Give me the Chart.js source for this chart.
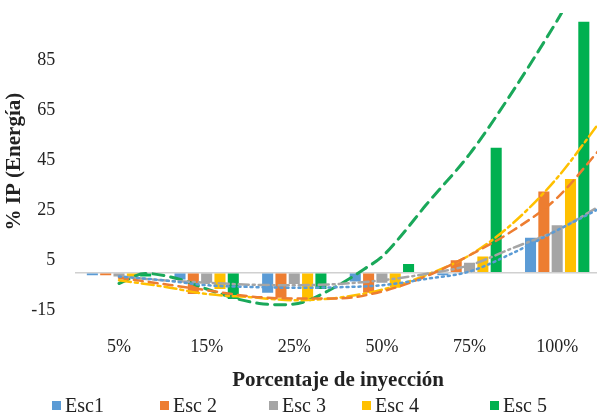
<!DOCTYPE html>
<html>
<head>
<meta charset="utf-8">
<script src="https://cdn.jsdelivr.net/npm/chart.js@4"></script>
<style>
    html, body { margin: 0; padding: 0; background: #fff; overflow: hidden; }
    #wrap { position: relative; width: 605px; height: 415px; }
    #legend { position: absolute; left: 0; top: 394px; width: 605px; height: 22px; }
    #legend .item {
        position: absolute; top: 0; display: flex; align-items: center;
        font-family: 'Liberation Serif', 'Times New Roman', serif; font-size: 20px; color: #222;
        white-space: nowrap; line-height: 22px;
    }
    #legend .box { width: 9px; height: 9px; margin-right: 4px; }
</style>
</head>
<body>
<div id="wrap">
    <canvas id="ipChart"></canvas>
    <div id="legend"></div>
</div>
<script>
// Categorías y valores (% IP por escenario)
const categories = ["5%", "15%", "25%", "50%", "75%", "100%"];
const seriesNames = ["Esc1", "Esc 2", "Esc 3", "Esc 4", "Esc 5"];
const esc1 = [-1, -2.7, -8, -3.5, -1, 14];
const esc2 = [-1, -8.5, -10, -8, 5, 32.5];
const esc3 = [-1.5, -4, -4.5, -4, 4, 19];
const esc4 = [-2, -6.5, -10.5, -6, 6.5, 37.5];
const esc5 = [-1.5, -10.5, -6.5, 3.5, 50, 100.5];

// Líneas de tendencia (x = posición en el eje de categorías)
const trendX = [0, 0.5, 1, 1.5, 2, 2.5, 3, 3.5, 4, 4.5, 5, 5.5];
const trend1 = [-1.5, -3, -5, -5.7, -6, -5.8, -5, -2.5, 0.5, 8, 17, 26];
const trend2 = [-2, -4.5, -7, -9.5, -10.3, -10.3, -7.5, -1.5, 7, 17, 30, 50];
const trend3 = [-1.5, -3, -4, -4.8, -5, -4.5, -3, -0.5, 3, 10, 17, 27];
const trend4 = [-3, -5.5, -8.5, -9.8, -11, -10, -6.8, -1, 7, 20, 38, 61];
const trend5X = [0, 0.3, 0.7, 1, 1.3, 1.6, 1.85, 2.1, 2.4, 2.6, 2.8, 3, 3.2, 3.5, 4, 4.5, 5, 5.05];
const trend5 = [-4.3, -0.3, -2.7, -6.5, -10, -12.3, -12.8, -11.8, -7, -3, 1.5, 6.4, 14, 27, 47.5, 73, 101, 104];

const yTicks = [-15, 0, 5, 25, 45, 65, 85];

const colors = ["#5b9bd5", "#ed7d31", "#a5a5a5", "#ffc000", "#00b050"];
const serif = "'Liberation Serif', 'Times New Roman', serif";

function barSet(label, data, color, i) {
    return {
        type: "bar",
        label: label,
        data: data,
        stack: "s" + i,
        backgroundColor: color,
        borderWidth: 0,
        order: 1,
        barPercentage: 0.83,
        categoryPercentage: 0.76,
    };
}

function trendSet(xs, ys, color, dash, width) {
    return {
        type: "line",
        label: "trend",
        stack: "s0",
        parsing: false,
        data: xs.map((x, i) => ({ x: x, y: ys[i] })),
        borderColor: color,
        borderDash: dash,
        borderWidth: width,
        borderCapStyle: "round",
        pointRadius: 0,
        cubicInterpolationMode: "monotone",
        fill: false,
        order: 0,
    };
}

const barData = [esc1, esc2, esc3, esc4, esc5];

new Chart(document.getElementById("ipChart"), {
    type: "bar",
    data: {
        labels: categories,
        datasets: [
            ...barData.map((d, i) => barSet(seriesNames[i], d, colors[i], i)),
            trendSet(trendX, trend1, colors[0], [2, 4], 2.5),
            trendSet(trendX, trend2, colors[1], [9, 6], 2.5),
            trendSet(trendX, trend3, colors[2], [10, 4, 2, 4], 2.5),
            trendSet(trendX, trend4, colors[3], [12, 4, 3, 4], 2.5),
            trendSet(trend5X, trend5, "#1aa85a", [11, 7], 3),
        ],
    },
    options: {
        responsive: true,
        maintainAspectRatio: false,
        animation: false,
        layout: { padding: { left: 2, right: 4, top: 13, bottom: 22 } },
        scales: {
            x: {
                type: "category",
                grid: { display: false, drawTicks: false },
                border: { display: false },
                ticks: {
                    color: "#222",
                    font: { family: serif, size: 18 },
                    padding: 26,
                },
                title: {
                    display: true,
                    text: "Porcentaje de inyección",
                    color: "#222",
                    font: { family: serif, size: 21, weight: "bold" },
                    padding: { top: -16, bottom: 0 },
                },
            },
            y: {
                stacked: false,
                min: -15,
                max: 104,
                afterBuildTicks: (scale) => {
                    scale.ticks = yTicks.map((v) => ({ value: v }));
                },
                grid: {
                    drawTicks: true,
                    tickLength: 18,
                    tickColor: "rgba(0,0,0,0)",
                    lineWidth: 1.5,
                    color: (ctx) => (ctx.tick && ctx.tick.value === 0 ? "#d0d0d0" : "rgba(0,0,0,0)"),
                },
                border: { display: false },
                ticks: {
                    autoSkip: false,
                    color: "#222",
                    font: { family: serif, size: 18 },
                    padding: 2,
                    callback: (v) => (v === 0 ? "" : v),
                },
                title: {
                    display: true,
                    text: "% IP (Energía)",
                    color: "#222",
                    font: { family: serif, size: 21, weight: "bold" },
                    padding: { top: 0, bottom: 2 },
                },
            },
        },
        plugins: {
            legend: { display: false },
            tooltip: { enabled: false },
        },
    },
});

// Leyenda (solo las series de barras)
const legendLeft = [52, 160, 269, 362, 490];
const legend = document.getElementById("legend");
seriesNames.forEach((name, i) => {
    const item = document.createElement("div");
    item.className = "item";
    item.style.left = legendLeft[i] + "px";
    const box = document.createElement("span");
    box.className = "box";
    box.style.background = colors[i];
    item.appendChild(box);
    item.appendChild(document.createTextNode(name));
    legend.appendChild(item);
});
</script>
</body>
</html>
